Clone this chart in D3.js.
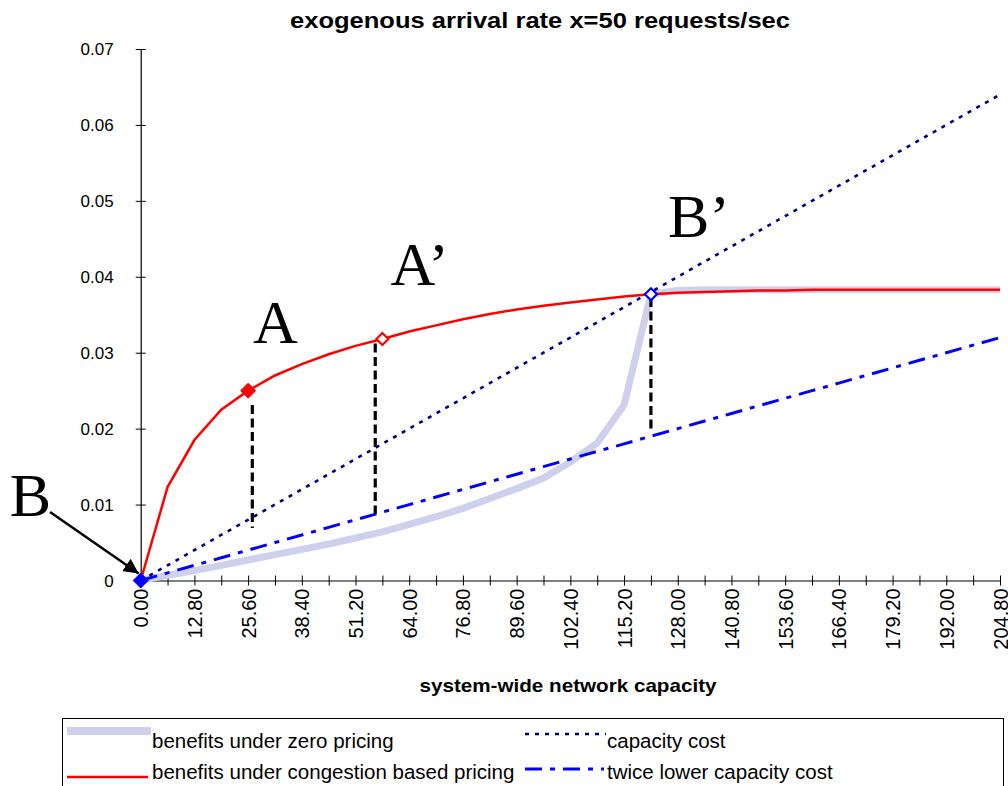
<!DOCTYPE html>
<html><head><meta charset="utf-8">
<script src="https://cdn.jsdelivr.net/npm/d3@7"></script>
<style>body{margin:0;background:#fff} svg{display:block}</style>
</head><body><svg id="c" width="1008" height="786"></svg>
<script>
// ---------- data ----------
const categories = [0,6.4,12.8,19.2,25.6,32,38.4,44.8,51.2,57.6,64,70.4,76.8,83.2,89.6,96,102.4,108.8,115.2,121.6,128,134.4,140.8,147.2,153.6,160,166.4,172.8,179.2,185.6,192,198.4,204.8];
const tickLabels = ["0.00","","12.80","","25.60","","38.40","","51.20","","64.00","","76.80","","89.60","","102.40","","115.20","","128.00","","140.80","","153.60","","166.40","","179.20","","192.00","","204.80"];
const yTicks = [0,0.01,0.02,0.03,0.04,0.05,0.06,0.07];
const yTickLabels = ["0","0.01","0.02","0.03","0.04","0.05","0.06","0.07"];
const zeroPricing = [0,0.0007,0.0013,0.002,0.0027,0.0034,0.0041,0.0048,0.0056,0.0064,0.0074,0.0084,0.0095,0.0108,0.0121,0.0135,0.0156,0.0181,0.0231,0.0377,0.0382,0.0383,0.0383,0.0383,0.0383,0.0383,0.0383,0.0383,0.0383,0.0383,0.0383,0.0383,0.0383];
const congestionPricing = [0,0.0123,0.0185,0.0225,0.025,0.027,0.0285,0.0298,0.0309,0.0318,0.0328,0.0336,0.0344,0.0351,0.0357,0.0362,0.0366,0.037,0.0374,0.0377,0.0379,0.038,0.0381,0.0382,0.0382,0.0383,0.0383,0.0383,0.0383,0.0383,0.0383,0.0383,0.0383];
const capacityCost = [0,0.002,0.004,0.006,0.008,0.01,0.012,0.014,0.016,0.018,0.02,0.022,0.024,0.026,0.028,0.03,0.032,0.034,0.036,0.038,0.04,0.042,0.044,0.046,0.048,0.05,0.052,0.054,0.056,0.058,0.06,0.062,0.064];
const halfCapacityCost = [0,0.001,0.002,0.003,0.004,0.005,0.006,0.007,0.008,0.009,0.01,0.011,0.012,0.013,0.014,0.015,0.016,0.017,0.018,0.019,0.02,0.021,0.022,0.023,0.024,0.025,0.026,0.027,0.028,0.029,0.03,0.031,0.032];
// vertical dashed drop lines (capacity, top value, bottom value)
const dropCapacity = [26.6, 55.9, 121.6];
const dropTop = [0.0231, 0.0312, 0.0372];
const dropBottom = [0.0069, 0.0088, 0.0198];
// highlighted points
const pointNames = ["B","A","A’","B’"];
const pointIndex = [0, 4, 9, 19];
const pointSeries = ["zero","congestion","congestion","congestion"];
const pointColor = ["#0000ff","#ff0000","#ff0000","#0000ff"];
const pointFilled = [true, true, false, false];
const legendNames = ["benefits under zero pricing","capacity cost","benefits under congestion based pricing","twice lower capacity cost"];

// ---------- layout ----------
const svg = d3.select("#c");
const FONT = "'Liberation Sans', Arial, sans-serif";
const x = d3.scaleLinear().domain([0, 204.8]).range([140.7, 1000]);
const y = d3.scaleLinear().domain([0, 0.07]).range([580.5, 49]);

// title
svg.append("text").attr("x", 540).attr("y", 28).attr("text-anchor","middle")
  .attr("font-family", FONT).attr("font-weight","bold").attr("font-size", 22)
  .attr("textLength", 500).attr("lengthAdjust","spacingAndGlyphs")
  .text("exogenous arrival rate x=50 requests/sec");

// axes
const xAxis = d3.axisBottom(x).tickValues(categories).tickFormat((d,i)=>tickLabels[i]).tickSizeOuter(0);
const gx = svg.append("g").attr("transform",`translate(0,${y(0)})`).call(xAxis);
gx.select(".domain").attr("stroke","#000").attr("stroke-width",1.2);
gx.selectAll(".tick line").attr("y1",-5).attr("y2",5).attr("stroke","#000");
gx.selectAll(".tick text").attr("transform","rotate(-90)").attr("text-anchor","end")
  .attr("x",-8).attr("y",0).attr("dy","0.35em")
  .attr("font-family",FONT).attr("font-size",20).attr("fill","#000");

const yAxis = d3.axisLeft(y).tickValues(yTicks).tickFormat((d,i)=>yTickLabels[i]).tickSizeOuter(0);
const gy = svg.append("g").attr("transform",`translate(${x(0)},0)`).call(yAxis);
gy.select(".domain").attr("stroke","#000").attr("stroke-width",1.2);
gy.selectAll(".tick line").attr("x1",-5).attr("x2",5).attr("stroke","#000");
gy.selectAll(".tick text").attr("x",-27).attr("dy","0.35em")
  .attr("font-family",FONT).attr("font-size",17).attr("fill","#000");

// x-axis title
svg.append("text").attr("x", 568).attr("y", 692).attr("text-anchor","middle")
  .attr("font-family", FONT).attr("font-weight","bold").attr("font-size", 19)
  .attr("textLength", 297).attr("lengthAdjust","spacingAndGlyphs")
  .text("system-wide network capacity");

// series
const line = d3.line().x((d,i)=>x(categories[i])).y(d=>y(d));
const styles = {
  zero: {stroke:"#cfd0ec", width:7, dash:null},
  congestion: {stroke:"#ff0000", width:2.5, dash:null},
  cap: {stroke:"#000080", width:2.6, dash:"4,6"},
  half: {stroke:"#0000ff", width:3, dash:"17,8,5,8"}
};
function drawSeries(data, st){
  svg.append("path").datum(data).attr("d", line).attr("fill","none")
    .attr("stroke", st.stroke).attr("stroke-width", st.width)
    .attr("stroke-dasharray", st.dash).attr("stroke-linejoin","miter");
}
drawSeries(zeroPricing, styles.zero);
drawSeries(capacityCost, styles.cap);
drawSeries(halfCapacityCost, styles.half);
drawSeries(congestionPricing, styles.congestion);

// drop lines
svg.append("g").selectAll("line").data(dropCapacity).join("line")
  .attr("x1", d=>x(d)).attr("x2", d=>x(d))
  .attr("y1", (d,i)=>y(dropTop[i])).attr("y2", (d,i)=>y(dropBottom[i]))
  .attr("stroke","#000").attr("stroke-width",3.2).attr("stroke-dasharray","9,4.5");

// markers
const seriesMap = {zero: zeroPricing, congestion: congestionPricing};
const mg = svg.append("g");
pointIndex.forEach((idx,i)=>{
  const px = x(categories[idx]), py = y(seriesMap[pointSeries[i]][idx]);
  const r = pointFilled[i] ? 7.5 : 6;
  mg.append("path").attr("d", `M${px},${py-r}L${px+r},${py}L${px},${py+r}L${px-r},${py}Z`)
    .attr("fill", pointFilled[i] ? pointColor[i] : "#fff")
    .attr("stroke", pointColor[i]).attr("stroke-width", pointFilled[i] ? 1 : 2.2);
});

// annotations
const SERIF = "'Liberation Serif', 'Times New Roman', serif";
const annOffsets = [[-131,-65],[5,-48],[8,-54],[17,-57]];
pointIndex.forEach((idx,i)=>{
  const px = x(categories[idx]), py = y(seriesMap[pointSeries[i]][idx]);
  svg.append("text").attr("x", px + annOffsets[i][0]).attr("y", py + annOffsets[i][1])
    .attr("font-family", SERIF).attr("font-size", 62).attr("fill","#000").text(pointNames[i]);
});
// arrow to B
svg.append("defs").append("marker").attr("id","ah").attr("viewBox","0 0 10 10")
  .attr("refX",10).attr("refY",5).attr("markerWidth",6).attr("markerHeight",6)
  .attr("orient","auto").attr("markerUnits","strokeWidth")
  .append("path").attr("d","M0,0L10,5L0,10Z").attr("fill","#000");
svg.append("line").attr("x1",50).attr("y1",512).attr("x2",x(0)-2).attr("y2",y(0)-7)
  .attr("stroke","#000").attr("stroke-width",2.5).attr("marker-end","url(#ah)");

// legend
svg.append("rect").attr("x",62.5).attr("y",718.5).attr("width",941).attr("height",80)
  .attr("fill","#fff").attr("stroke","#000").attr("stroke-width",1);
const legStyle = [styles.zero, styles.cap, styles.congestion, styles.half];
const legLineX = [[67,151],[525,606],[67,148],[525,604]];
const legLineY = [731, 734, 777, 769];
const legTextX = [152, 607, 152, 607];
const legTextY = [748, 748, 779, 779];
legendNames.forEach((name,i)=>{
  const st = legStyle[i];
  svg.append("line").attr("x1",legLineX[i][0]).attr("x2",legLineX[i][1])
    .attr("y1",legLineY[i]).attr("y2",legLineY[i])
    .attr("stroke",st.stroke).attr("stroke-width", i===0 ? 8 : st.width)
    .attr("stroke-dasharray", st.dash);
  svg.append("text").attr("x",legTextX[i]).attr("y",legTextY[i])
    .attr("font-family",FONT).attr("font-size",20.5).text(name);
});
</script></body></html>
